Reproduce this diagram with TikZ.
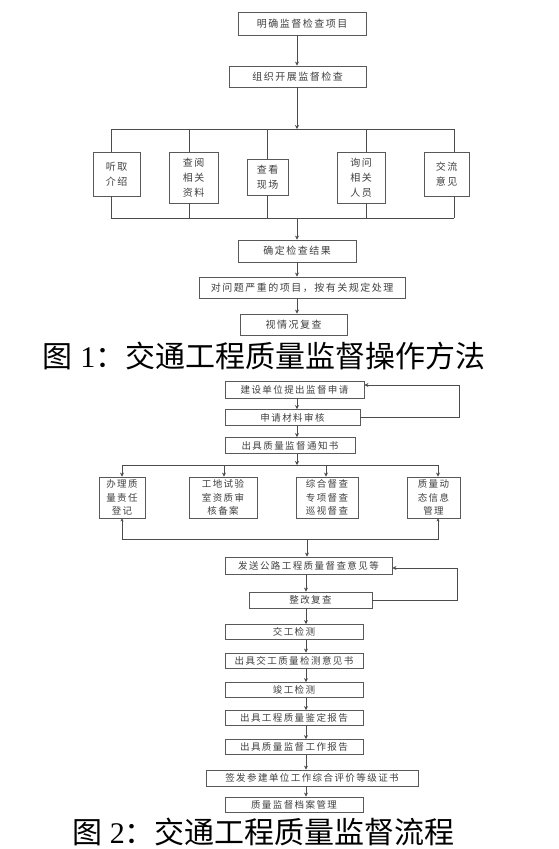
\documentclass[tikz,border=0pt]{standalone}
\usepackage{fontspec}
\setmainfont{Liberation Serif}
\newfontfamily\cjk{Noto Sans CJK SC}
\newfontfamily\cjkbox[LetterSpace=15]{Noto Sans CJK SC}
\usetikzlibrary{arrows.meta}
\begin{document}
\begin{tikzpicture}[x=1pt,y=-1pt,
  box/.style={draw=black!65,line width=0.8pt,inner sep=0pt,align=center,text=black!75,font=\cjkbox\fontsize{10}{15}\selectfont},
  sbox/.style={box,font=\cjkbox\fontsize{9.5}{13.5}\selectfont},
  ln/.style={draw=black!70,line width=0.8pt},
  arr/.style={ln,-{Stealth[length=4pt,width=4pt]}},
  darr/.style={ln,{Stealth[length=3pt,width=3pt]}-{Stealth[length=3pt,width=3pt]}},
  captxt/.style={font=\fontsize{30}{30}\selectfont,text=black,inner sep=0pt}]
\useasboundingbox[fill=white] (0,0) rectangle (558,849);

% ---------- Figure 1 ----------
\node[box,minimum width=128pt,minimum height=23pt] (a1) at (302,23.5) {明确监督检查项目};
\node[box,minimum width=137pt,minimum height=21pt] (a2) at (297.5,76.5) {组织开展监督检查};
\node[box,minimum width=47pt,minimum height=44pt] (b1) at (116.5,174) {听取\\介绍};
\node[box,minimum width=49pt,minimum height=51pt] (b2) at (193.5,177.5) {查阅\\相关\\资料};
\node[box,minimum width=41pt,minimum height=36pt] (b3) at (267.5,177) {查看\\现场};
\node[box,minimum width=48pt,minimum height=51pt] (b4) at (361,177.5) {询问\\相关\\人员};
\node[box,minimum width=45pt,minimum height=44pt] (b5) at (446.5,174) {交流\\意见};
\node[box,minimum width=118pt,minimum height=22pt] (c1) at (297,251) {确定检查结果};
\node[box,minimum width=206pt,minimum height=21pt] (c2) at (302,287.5) {对问题严重的项目，按有关规定处理};
\node[box,minimum width=107pt,minimum height=21pt] (c3) at (293.5,324.5) {视情况复查};

\coordinate (m1) at (297,129);
\coordinate (bl) at (297,218);
\coordinate (t1) at (111,129);
\coordinate (t2) at (189,129);
\coordinate (t3) at (267,129);
\coordinate (t4) at (366,129);
\coordinate (t5) at (454,129);
\draw[arr] (a1.south -| m1) -- (a2.north -| m1);
\draw[arr] (a2.south -| m1) -- (m1);
\draw[ln] (t1) -- (t5);
\draw[ln] (t1 |- bl) -- (t5 |- bl);
\foreach \i in {1,...,5}{
  \draw[ln] (t\i) -- (t\i |- b\i.north);
  \draw[ln] (b\i.south -| t\i) -- (t\i |- bl);
}
\draw[arr] (bl) -- (c1.north -| bl);
\draw[arr] (c1.south -| bl) -- (c2.north -| bl);
\draw[arr] (c2.south -| bl) -- (c3.north -| bl);

\node[captxt] (cap1) at (264,356) {{\cjk 图} 1{\cjk ：交通工程质量监督操作方法}};

% ---------- Figure 2 ----------
\node[sbox,minimum width=139pt,minimum height=17pt] (d1) at (294.5,389.5) {建设单位提出监督申请};
\node[sbox,minimum width=135pt,minimum height=16pt] (d2) at (292.5,417.5) {申请材料审核};
\node[sbox,minimum width=130pt,minimum height=16pt] (d3) at (290,445.5) {出具质量监督通知书};
\node[sbox,minimum width=46pt,minimum height=41pt] (e1) at (122,497.5) {办理质\\量责任\\登记};
\node[sbox,minimum width=68pt,minimum height=41pt] (e2) at (223,497.5) {工地试验\\室资质审\\核备案};
\node[sbox,minimum width=62pt,minimum height=41pt] (e3) at (327,497.5) {综合督查\\专项督查\\巡视督查};
\node[sbox,minimum width=53pt,minimum height=41pt] (e4) at (433.5,497.5) {质量动\\态信息\\管理};
\node[sbox,minimum width=167pt,minimum height=17pt] (f1) at (308.5,565.5) {发送公路工程质量督查意见等};
\node[sbox,minimum width=123pt,minimum height=16pt] (f2) at (310.5,600) {整改复查};
\node[sbox,minimum width=138pt,minimum height=15pt] (g1) at (294,632) {交工检测};
\node[sbox,minimum width=138pt,minimum height=15pt] (g2) at (294,660.5) {出具交工质量检测意见书};
\node[sbox,minimum width=138pt,minimum height=15pt] (g3) at (294,690) {竣工检测};
\node[sbox,minimum width=138pt,minimum height=15pt] (g4) at (294,718) {出具工程质量鉴定报告};
\node[sbox,minimum width=138pt,minimum height=15pt] (g5) at (294,747) {出具质量监督工作报告};
\node[sbox,minimum width=212pt,minimum height=16pt] (g6) at (312,778) {签发参建单位工作综合评价等级证书};
\node[sbox,minimum width=138pt,minimum height=15pt] (g7) at (294,804.5) {质量监督档案管理};

\coordinate (m2) at (297,465);
\coordinate (u1) at (122,465);
\coordinate (u2) at (224,465);
\coordinate (u3) at (326,465);
\coordinate (u4) at (438,465);
\coordinate (v) at (307,539);
\coordinate (w) at (306,600);
\coordinate (r1) at (459,385);
\coordinate (r2) at (457,568);

\draw[arr] (d1.south -| m2) -- (d2.north -| m2);
\draw[arr] (d2.south -| m2) -- (d3.north -| m2);
\draw[arr] (d3.south -| m2) -- (m2);
\draw[ln] (u1) -- (u4);
\foreach \i in {1,...,4}{
  \draw[arr] (u\i) -- (u\i |- e\i.north);
}
\draw[darr] (e1.south -| u1) -- (u1 |- v) -- (u4 |- v) -- (e4.south -| u4);
\draw[arr] (v) -- (f1.north -| v);
\draw[arr] (f1.south -| w) -- (f2.north -| w);
\draw[arr] (f2.south -| w) -- (g1.north -| w);
\draw[arr] (g1.south -| w) -- (g2.north -| w);
\draw[arr] (g2.south -| w) -- (g3.north -| w);
\draw[arr] (g3.south -| w) -- (g4.north -| w);
\draw[arr] (g4.south -| w) -- (g5.north -| w);
\draw[arr] (g5.south -| w) -- (g6.north -| w);
\draw[arr] (g6.south -| w) -- (g7.north -| w);

\draw[arr] (d2.east) -| (r1) -- (r1 -| d1.east);
\draw[arr] (f2.east) -| (r2) -- (r2 -| f1.east);

\node[captxt] (cap2) at (263.5,832) {{\cjk 图} 2{\cjk ：交通工程质量监督流程}};
\end{tikzpicture}
\end{document}
